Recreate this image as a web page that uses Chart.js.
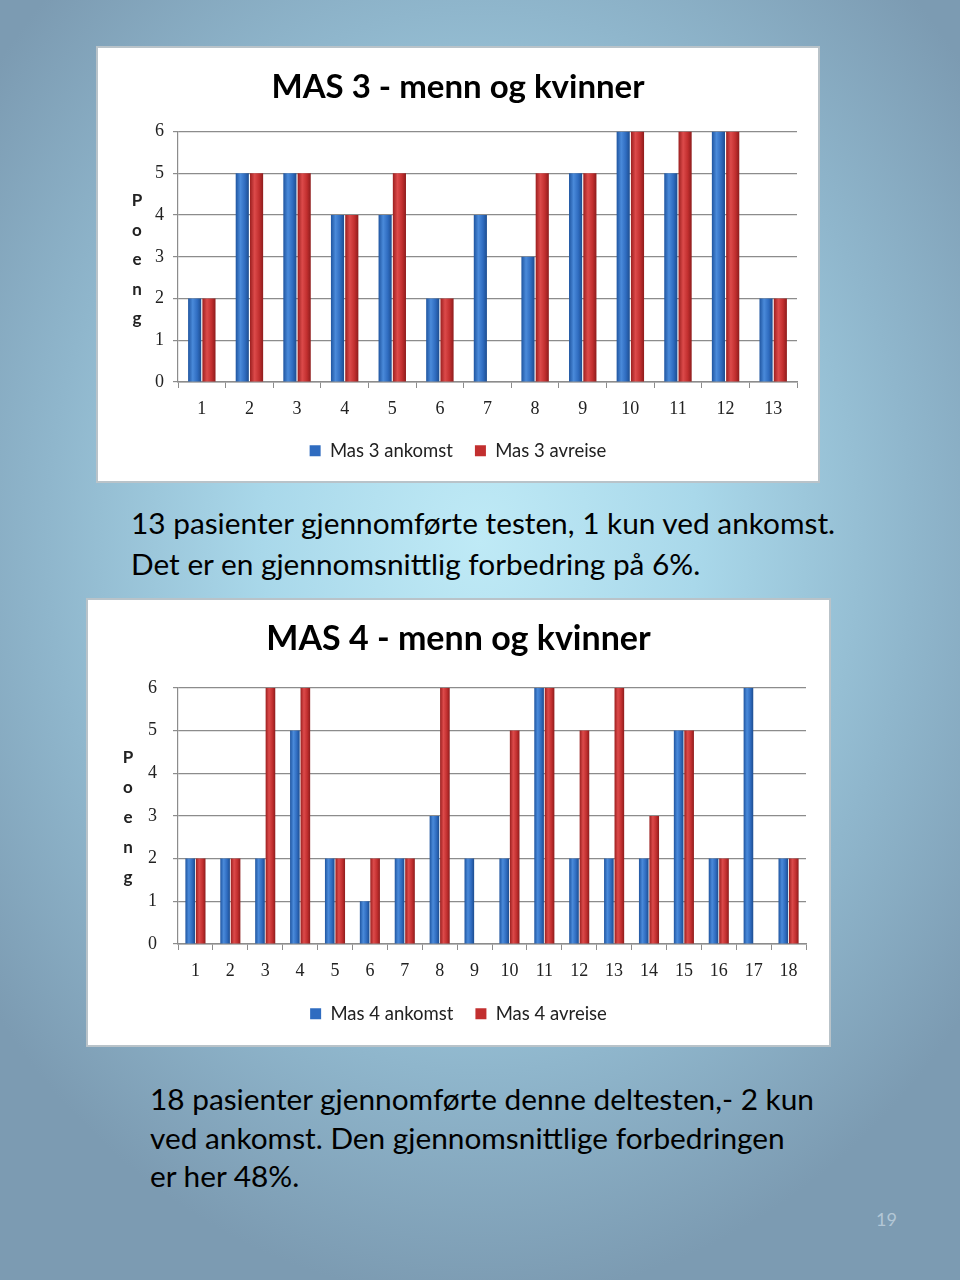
<!DOCTYPE html>
<html>
<head>
<meta charset="utf-8">
<script src="https://cdn.jsdelivr.net/npm/chart.js@4.4.1/dist/chart.umd.min.js"></script>
<style>
  html, body { margin: 0; padding: 0; }
  body {
    width: 960px; height: 1280px; position: relative; overflow: hidden;
    background: radial-gradient(ellipse 620px 760px at 480px 540px, #bfeaf6 0%, #a9d8ea 35%, #8fb6cc 70%, #7c9bb2 100%);
    font-family: Lato, "Liberation Sans", sans-serif;
  }
  .box {
    position: absolute; background: #fff; border: 2px solid #b9c3c9; box-sizing: border-box;
  }
  .box canvas { display: block; }
  .txt { position: absolute; color: #000; font-size: 29.8px; }
  .txt div { white-space: nowrap; }
  #page { position: absolute; left: 876px; top: 1208px; color: #b3c7d6; font-size: 18px; }
</style>
</head>
<body>
<div class="box" id="box1" style="left:96px; top:46px; width:724px; height:437px;">
  <canvas id="mas3" width="720" height="433"></canvas>
</div>
<div class="txt" style="left:131px; top:502px; line-height:41px;">
  <div>13 pasienter gjennomførte testen, 1 kun ved ankomst.</div>
  <div>Det er en gjennomsnittlig forbedring på 6%.</div>
</div>
<div class="box" id="box2" style="left:86px; top:598px; width:745px; height:449px;">
  <canvas id="mas4" width="741" height="445"></canvas>
</div>
<div class="txt" style="left:150px; top:1080px; line-height:38.5px;">
  <div>18 pasienter gjennomførte denne deltesten,- 2 kun</div>
  <div>ved ankomst. Den gjennomsnittlige forbedringen</div>
  <div>er her 48%.</div>
</div>
<div id="page">19</div>

<script>
// MAS 3 - 13 patients
const mas3Labels = ["1", "2", "3", "4", "5", "6", "7", "8", "9", "10", "11", "12", "13"];
const mas3Ankomst = [2, 5, 5, 4, 4, 2, 4, 3, 5, 6, 5, 6, 2];
const mas3Avreise = [2, 5, 5, 4, 5, 2, null, 5, 5, 6, 6, 6, 2];

// MAS 4 - 18 patients
const mas4Labels = ["1", "2", "3", "4", "5", "6", "7", "8", "9", "10", "11", "12", "13", "14", "15", "16", "17", "18"];
const mas4Ankomst = [2, 2, 2, 5, 2, 1, 2, 3, 2, 2, 6, 2, 2, 2, 5, 2, 6, 2];
const mas4Avreise = [2, 2, 6, 6, 2, 2, 2, 6, null, 5, 6, 5, 6, 3, 5, 2, null, 2];

const yTicks = [0, 1, 2, 3, 4, 5, 6];

// colour stops for the rounded "excel" look, left edge -> right edge
const BLUE_STOPS = ["#1f55a0", "#4a8ada", "#2f6cc0", "#1d4d90"];
const RED_STOPS = ["#9c1f1f", "#dc4a4a", "#c22f2f", "#8e1c1c"];
const CAT_PCT = 0.6;
const BAR_PCT = 0.92;

// horizontal gradient per bar, placed from the x scale
function barFill(stops) {
  return (context) => {
    const chart = context.chart;
    const xs = chart.scales.x;
    if (!xs || !chart.chartArea) return stops[2];
    const n = chart.data.labels.length;
    const catW = (xs.right - xs.left) / n;
    const slot = (catW * CAT_PCT) / 2;
    const center = xs.getPixelForValue(context.dataIndex) - slot + slot * context.datasetIndex + slot / 2;
    const half = (slot * BAR_PCT) / 2;
    const g = chart.ctx.createLinearGradient(center - half, 0, center + half, 0);
    g.addColorStop(0, stops[0]);
    g.addColorStop(0.35, stops[1]);
    g.addColorStop(0.7, stops[2]);
    g.addColorStop(1, stops[3]);
    return g;
  };
}

// stacked letters "Poeng" left of the y axis
const poengPlugin = {
  id: "poeng",
  afterDraw(chart, args, opts) {
    const ctx = chart.ctx;
    const mid = (chart.chartArea.top + chart.chartArea.bottom) / 2 + opts.shift;
    const letters = "Poeng".split("");
    ctx.save();
    ctx.font = "bold 17px Lato, sans-serif";
    ctx.fillStyle = "#222";
    ctx.textAlign = "center";
    ctx.textBaseline = "middle";
    letters.forEach((l, i) => {
      ctx.fillText(l, opts.x, mid + (i - 2) * opts.step);
    });
    ctx.restore();
  },
};

function buildChart(id, cfg) {
  const ctx = document.getElementById(id).getContext("2d");
  return new Chart(ctx, {
    type: "bar",
    data: {
      labels: cfg.labels,
      datasets: [
        {
          label: cfg.names[0],
          data: cfg.a,
          backgroundColor: barFill(BLUE_STOPS),
          borderWidth: 0,
          barPercentage: BAR_PCT,
          categoryPercentage: CAT_PCT,
        },
        {
          label: cfg.names[1],
          data: cfg.b,
          backgroundColor: barFill(RED_STOPS),
          borderWidth: 0,
          barPercentage: BAR_PCT,
          categoryPercentage: CAT_PCT,
        },
      ],
    },
    options: {
      responsive: false,
      animation: false,
      layout: { padding: { left: cfg.side, right: cfg.side, top: 0, bottom: cfg.bottom } },
      plugins: {
        title: {
          display: true,
          text: cfg.title,
          color: "#000",
          font: { family: "Lato", size: cfg.titleSize, weight: "bold" },
          padding: { top: cfg.titleTop, bottom: cfg.titleBottom },
        },
        legend: {
          position: "bottom",
          labels: {
            color: "#222",
            font: { family: "Lato", size: 18.5 },
            boxWidth: 11,
            boxHeight: 11,
            padding: 22,
            generateLabels: (chart) =>
              Chart.defaults.plugins.legend.labels.generateLabels(chart).map((item, i) => {
                item.fillStyle = i === 0 ? "#2f6cc0" : "#c22f2f";
                item.strokeStyle = item.fillStyle;
                return item;
              }),
          },
        },
        tooltip: { enabled: false },
        poeng: { x: cfg.poengX, step: cfg.poengStep, shift: cfg.poengShift },
      },
      scales: {
        x: {
          afterFit: (axis) => {
            axis.height = cfg.xHeight;
          },
          grid: {
            display: true,
            drawOnChartArea: false,
            drawTicks: true,
            tickLength: 6,
            color: "#8c8c8c",
          },
          border: { color: "#8c8c8c", width: 1.5 },
          ticks: {
            color: "#222",
            padding: 10,
            font: { family: "Liberation Serif", size: 18 },
          },
        },
        y: {
          min: 0,
          max: 6,
          afterBuildTicks: (axis) => {
            axis.ticks = yTicks.map((v) => ({ value: v }));
          },
          afterFit: (axis) => {
            axis.width = cfg.yWidth;
          },
          grid: { color: "#8c8c8c", lineWidth: 1.2, tickLength: 5 },
          border: { color: "#8c8c8c", width: 1.2 },
          ticks: {
            color: "#222",
            padding: cfg.yPad,
            font: { family: "Liberation Serif", size: 18 },
          },
        },
      },
    },
    plugins: [poengPlugin],
  });
}

buildChart("mas3", {
  labels: mas3Labels,
  a: mas3Ankomst,
  b: mas3Avreise,
  names: ["Mas 3 ankomst", "Mas 3 avreise"],
  title: "MAS 3 - menn og kvinner",
  titleSize: 33,
  titleTop: 20,
  titleBottom: 24,
  side: 21,
  bottom: 11,
  xHeight: 37.5,
  yWidth: 59,
  yPad: 9,
  poengX: 39,
  poengStep: 29.5,
  poengShift: 3,
});

buildChart("mas4", {
  labels: mas4Labels,
  a: mas4Ankomst,
  b: mas4Avreise,
  names: ["Mas 4 ankomst", "Mas 4 avreise"],
  title: "MAS 4 - menn og kvinner",
  titleSize: 34,
  titleTop: 19,
  titleBottom: 28,
  side: 23,
  bottom: 12,
  xHeight: 38.5,
  yWidth: 67,
  yPad: 16,
  poengX: 40,
  poengStep: 30,
  poengShift: 2,
});
</script>
</body>
</html>
